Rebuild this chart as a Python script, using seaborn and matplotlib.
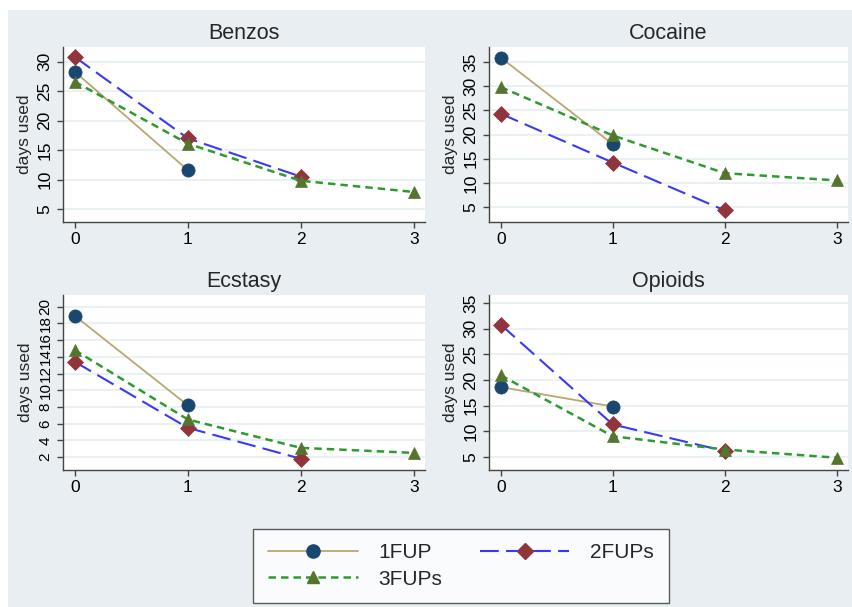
import matplotlib
matplotlib.use("Agg")
import matplotlib.pyplot as plt
from matplotlib.patches import Rectangle
from matplotlib.lines import Line2D
import seaborn as sns
import pandas as pd

sns.set_theme(style="white")
plt.rcParams['font.family'] = ['Liberation Sans', 'DejaVu Sans']

# ---- data ----
drugs = ["Benzos", "Cocaine", "Ecstasy", "Opioids"]
series_names = ["1FUP", "2FUPs", "3FUPs"]

benzos_1fup = [28.3, 11.6]
benzos_2fups = [30.8, 17.0, 10.5]
benzos_3fups = [26.6, 16.1, 9.8, 7.9]

cocaine_1fup = [35.9, 18.0]
cocaine_2fups = [24.3, 14.2, 4.3]
cocaine_3fups = [29.8, 19.8, 12.0, 10.5]

ecstasy_1fup = [18.9, 8.2]
ecstasy_2fups = [13.4, 5.5, 1.8]
ecstasy_3fups = [14.8, 6.5, 3.1, 2.5]

opioids_1fup = [18.6, 14.8]
opioids_2fups = [30.8, 11.3, 6.1]
opioids_3fups = [20.9, 9.0, 6.4, 4.8]

values = {
    "Benzos": [benzos_1fup, benzos_2fups, benzos_3fups],
    "Cocaine": [cocaine_1fup, cocaine_2fups, cocaine_3fups],
    "Ecstasy": [ecstasy_1fup, ecstasy_2fups, ecstasy_3fups],
    "Opioids": [opioids_1fup, opioids_2fups, opioids_3fups],
}
yticks = {
    "Benzos": [5, 10, 15, 20, 25, 30],
    "Cocaine": [5, 10, 15, 20, 25, 30, 35],
    "Ecstasy": [2, 4, 6, 8, 10, 12, 14, 16, 18, 20],
    "Opioids": [5, 10, 15, 20, 25, 30, 35],
}
ylims = {
    "Benzos": (2.8, 32.5),
    "Cocaine": (1.9, 38.1),
    "Ecstasy": (0.45, 21.4),
    "Opioids": (2.4, 36.6),
}
xticks = [0, 1, 2, 3]

# ---- styles ----
styles = [
    dict(color="#b9a671", lw=1.3, ls="-", marker="o", ms=9.5, mc="#1a476f"),
    dict(color="#3a3af0", lw=1.5, ls=(0, (9, 3.5)), marker="D", ms=8, mc="#90353b"),
    dict(color="#2f9a2f", lw=1.8, ls=(0, (3, 2)), marker="^", ms=9, mc="#55752f"),
]

fig = plt.figure(figsize=(8.52, 6.07), dpi=100)
fig.patch.set_facecolor("white")
fig.patches.append(Rectangle((8 / 852, 0), 1, 1 - 10 / 607, transform=fig.transFigure,
                             facecolor="#e8eef1", edgecolor="none", zorder=-10))

W, H = 852, 607
boxes = {
    "Benzos": (63, 47, 425, 222),
    "Cocaine": (489, 47, 848, 222),
    "Ecstasy": (63, 295, 425, 470),
    "Opioids": (489, 295, 848, 470),
}

for drug in drugs:
    l, t, r, b = boxes[drug]
    ax = fig.add_axes([l / W, 1 - b / H, (r - l) / W, (b - t) / H])
    ax.set_facecolor("white")
    for vals, st in zip(values[drug], styles):
        df = pd.DataFrame({"wave": xticks[:len(vals)], "days": vals})
        sns.lineplot(data=df, x="wave", y="days", ax=ax, color=st["color"],
                     linewidth=st["lw"], linestyle=st["ls"], marker=st["marker"],
                     markersize=st["ms"], markerfacecolor=st["mc"],
                     markeredgecolor=st["mc"], markeredgewidth=0.5)
    ax.set_xlim(-0.105, 3.1)
    ax.set_ylim(*ylims[drug])
    ax.set_xticks(xticks)
    ax.set_yticks(yticks[drug])
    ax.grid(axis="y", color="#e6eff1", linewidth=1.2)
    ax.grid(axis="x", visible=False)
    ax.set_axisbelow(True)
    for s in ["top", "right"]:
        ax.spines[s].set_visible(False)
    for s in ["left", "bottom"]:
        ax.spines[s].set_color("#444444")
        ax.spines[s].set_linewidth(1.0)
    ax.tick_params(axis="both", which="both", length=4.5, width=1.0, color="#444444",
                   labelsize=12.5, labelcolor="black", pad=3, direction="out",
                   left=True, bottom=True)
    ysize = 11 if drug == "Ecstasy" else 12.5
    for lab in ax.get_yticklabels():
        lab.set_rotation(90)
        lab.set_va("center")
        lab.set_ha("right")
        lab.set_fontsize(ysize)
    ax.set_xlabel("")
    ax.set_ylabel("days used", fontsize=12.5, labelpad=4)
    ax.set_title(drug, fontsize=15.5, pad=6)

handles = []
for st in styles:
    handles.append(Line2D([], [], color=st["color"], lw=st["lw"], ls=st["ls"],
                          marker=st["marker"], markersize=st["ms"],
                          markerfacecolor=st["mc"], markeredgecolor=st["mc"]))
order = [0, 2, 1]
leg = fig.legend([handles[i] for i in order], [series_names[i] for i in order],
                 loc="center", bbox_to_anchor=(461 / W, 1 - 566 / H), ncol=2,
                 fontsize=15, frameon=True, fancybox=False, handlelength=4.3,
                 columnspacing=1.8, handletextpad=1.0, numpoints=1,
                 borderpad=0.7, labelspacing=0.35)
leg.get_frame().set_edgecolor("#333333")
leg.get_frame().set_linewidth(1.0)
leg.get_frame().set_facecolor("white")

fig.savefig("out.png", dpi=100)
